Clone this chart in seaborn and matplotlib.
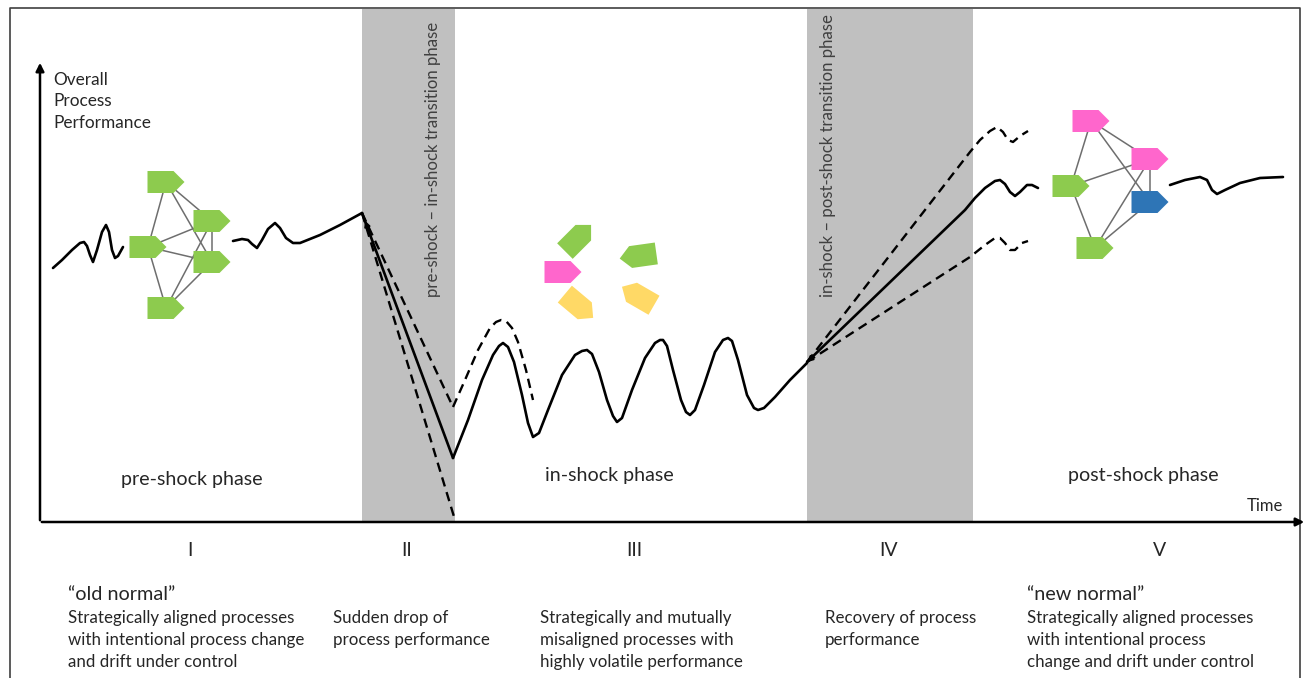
import matplotlib
matplotlib.use("Agg")
import matplotlib.pyplot as plt
import numpy as np
import pandas as pd
import seaborn as sns
from matplotlib.patches import Polygon, Rectangle

# canvas works in pixel units (x right, y down)
W, H = 1308, 678

# ---- curve data ----
pre1_x = [53, 62, 72, 80, 84, 87, 90, 93, 97, 102, 106, 109, 112, 115, 118, 123]
pre1_y = [268, 260, 250, 243, 242, 246, 255, 262, 250, 232, 225, 232, 250, 258, 256, 247]

pre2_x = [233, 242, 248, 252, 257, 262, 268, 275, 280, 286, 293, 300, 320, 340, 362]
pre2_y = [241, 239, 240, 244, 248, 240, 229, 223, 228, 238, 243, 243, 235, 225, 213]

drop_x = [362, 453]
drop_y = [213, 458]
drop_hi_y = [213, 407]
drop_lo_x = [362, 455]
drop_lo_y = [213, 520]

shock_x = [453, 468, 482, 493, 499, 503, 508, 514, 522, 528, 533, 539, 548, 562, 575, 582,
           587, 592, 599, 607, 613, 617, 622, 632, 645, 655, 660, 663, 667, 673, 681, 686,
           690, 695, 704, 715, 723, 728, 732, 738, 747, 754, 758, 764, 775, 790, 807]
shock_y = [458, 420, 380, 355, 346, 343, 347, 362, 395, 423, 437, 433, 410, 375, 355, 351,
           350, 354, 372, 400, 416, 422, 418, 390, 358, 343, 340, 340, 346, 370, 400, 412,
           415, 410, 385, 352, 340, 338, 341, 360, 395, 408, 410, 408, 397, 380, 363]

bump_x = [453, 465, 478, 490, 496, 501, 506, 512, 518, 526, 533]
bump_y = [407, 380, 350, 328, 322, 320, 321, 328, 342, 370, 400]

rec_x = [807, 965, 975, 985, 995, 1000, 1005, 1010, 1015, 1020, 1027, 1032, 1038]
rec_y = [362, 210, 198, 188, 181, 180, 184, 192, 196, 192, 185, 185, 188]
rec_hi_x = [807, 970, 980, 990, 997, 1003, 1008, 1013, 1020, 1028]
rec_hi_y = [362, 152, 140, 131, 127, 132, 140, 142, 136, 131]
rec_lo_x = [807, 970, 985, 995, 1000, 1005, 1010, 1015, 1022, 1028]
rec_lo_y = [362, 257, 245, 238, 238, 243, 250, 250, 243, 241]

post_x = [1170, 1185, 1200, 1207, 1212, 1217, 1225, 1240, 1260, 1283]
post_y = [185, 180, 177, 180, 190, 194, 190, 183, 178, 177]

# ---- phases ----
band_left = [362, 807]
band_right = [455, 973]
band_labels = ["pre-shock \u2013 in-shock transition phase",
               "in-shock \u2013 post-shock transition phase"]
band_label_x = [433, 828]

y_label = ["Overall", "Process", "Performance"]

phase_names = ["pre-shock phase", "in-shock phase", "post-shock phase"]
phase_x = [192, 609, 1143]
phase_y = [479, 475, 475]

numerals = ["I", "II", "III", "IV", "V"]
numeral_x = [190, 407, 634, 889, 1160]

desc_x = [68, 333, 540, 825, 1027]
desc_lines = [["Strategically aligned processes", "with intentional process change", "and drift under control"],
              ["Sudden drop of", "process performance"],
              ["Strategically and mutually", "misaligned processes with", "highly volatile performance"],
              ["Recovery of process", "performance"],
              ["Strategically aligned processes", "with intentional process", "change and drift under control"]]
quote_x = [68, 1027]
quote_text = ["\u201cold normal\u201d", "\u201cnew normal\u201d"]

# ---- process tags ----
GREEN, PINK, YELLOW, BLUE = "#8DCB4E", "#FF66CC", "#FFD966", "#2E75B6"
left_nodes_x = [166, 148, 212, 212, 166]
left_nodes_y = [182, 247, 221, 262, 308]
left_nodes_c = [GREEN] * 5
left_edges = [(0, 1), (0, 2), (0, 3), (4, 1), (4, 2), (4, 3), (1, 2), (1, 3), (2, 3)]

right_nodes_x = [1091, 1150, 1071, 1150, 1095]
right_nodes_y = [121, 159, 186, 202, 248]
right_nodes_c = [PINK, PINK, GREEN, BLUE, GREEN]
right_edges = [(0, 2), (0, 1), (0, 3), (2, 1), (2, 4), (4, 1), (4, 3), (1, 3)]

loose_x = [578, 638, 563, 579, 638]
loose_y = [238, 256, 272, 306, 296]
loose_angle = [45, 188, 0, -40, 150]
loose_c = [GREEN, GREEN, PINK, YELLOW, YELLOW]


def tag(ax, cx, cy, color, angle=0, w=37, h=22, tip=11):
    pts = np.array([[-w / 2, -h / 2], [w / 2 - tip, -h / 2], [w / 2, 0],
                    [w / 2 - tip, h / 2], [-w / 2, h / 2]])
    a = np.deg2rad(angle)
    xs = cx + pts[:, 0] * np.cos(a) - pts[:, 1] * np.sin(a)
    ys = cy - (pts[:, 0] * np.sin(a) + pts[:, 1] * np.cos(a))
    ax.add_patch(Polygon(np.column_stack([xs, ys]), closed=True, fc=color, ec="none", zorder=5))


def network(ax, nx, ny, nc, edges):
    for i, j in edges:
        ax.plot([nx[i], nx[j]], [ny[i], ny[j]], color="#6E6E6E", lw=1.1, zorder=4)
    for x, y, c in zip(nx, ny, nc):
        tag(ax, x, y, c)


sns.set_theme(style="white")
plt.rcParams["font.family"] = ["Lato", "DejaVu Sans"]

fig = plt.figure(figsize=(W / 100, H / 100), dpi=100)
ax = fig.add_axes([0, 0, 1, 1])
ax.set_xlim(0, W)
ax.set_ylim(H, 0)
ax.axis("off")

# frame
ax.plot([10, 10, 1300, 1300], [678, 8, 8, 678], color="#404040", lw=1.2)

# transition bands
for l, r in zip(band_left, band_right):
    ax.add_patch(Rectangle((l, 9), r - l, 522 - 9, fc="#C0C0C0", ec="none", zorder=0))
for lab, x in zip(band_labels, band_label_x):
    ax.text(x, 297, lab, rotation=90, ha="center", va="bottom", fontsize=12.1, color="#404040")

# axes arrows
ax.annotate("", xy=(40, 60), xytext=(40, 523),
            arrowprops=dict(arrowstyle="-|>", lw=1.8, color="black", mutation_scale=12))
ax.annotate("", xy=(1307, 522), xytext=(39, 522),
            arrowprops=dict(arrowstyle="-|>", lw=1.8, color="black", mutation_scale=12))
for i, t in enumerate(y_label):
    ax.text(53, 80 + i * 21.5, t, ha="left", va="center", fontsize=12.4)
ax.text(1265, 506, "Time", ha="center", va="center", fontsize=12)

# curves
solid = [(pre1_x, pre1_y), (pre2_x, pre2_y), (drop_x, drop_y), (shock_x, shock_y),
         (rec_x, rec_y), (post_x, post_y)]
dashed = [(drop_x, drop_hi_y), (drop_lo_x, drop_lo_y), (bump_x, bump_y),
          (rec_hi_x, rec_hi_y), (rec_lo_x, rec_lo_y)]
for xs, ys in solid:
    sns.lineplot(x=xs, y=ys, ax=ax, color="black", lw=1.9, sort=False, estimator=None, zorder=3)
for xs, ys in dashed:
    sns.lineplot(x=xs, y=ys, ax=ax, color="black", lw=1.7, sort=False, estimator=None,
                 zorder=3, dashes=False, linestyle=(0, (4, 2.5)))

# small arrowheads at the turning points
ax.annotate("", xy=(364, 218), xytext=(370, 234),
            arrowprops=dict(arrowstyle="-|>", lw=1.2, color="black", mutation_scale=9))
ax.annotate("", xy=(805, 364), xytext=(815, 355),
            arrowprops=dict(arrowstyle="-|>", lw=1.2, color="black", mutation_scale=9))

# process tags
network(ax, left_nodes_x, left_nodes_y, left_nodes_c, left_edges)
network(ax, right_nodes_x, right_nodes_y, right_nodes_c, right_edges)
for x, y, a, c in zip(loose_x, loose_y, loose_angle, loose_c):
    tag(ax, x, y, c, angle=a)

# phase names and numerals
for name, x, y in zip(phase_names, phase_x, phase_y):
    ax.text(x, y, name, ha="center", va="center", fontsize=14.1)
for n, x in zip(numerals, numeral_x):
    ax.text(x, 551, n, ha="center", va="center", fontsize=14)

# descriptions
for x, t in zip(quote_x, quote_text):
    ax.text(x, 594, t, ha="left", va="center", fontsize=14.3)
for x, lines in zip(desc_x, desc_lines):
    for i, t in enumerate(lines):
        ax.text(x, 618 + i * 22, t, ha="left", va="center", fontsize=12.2)

fig.savefig("out.png", dpi=100)
